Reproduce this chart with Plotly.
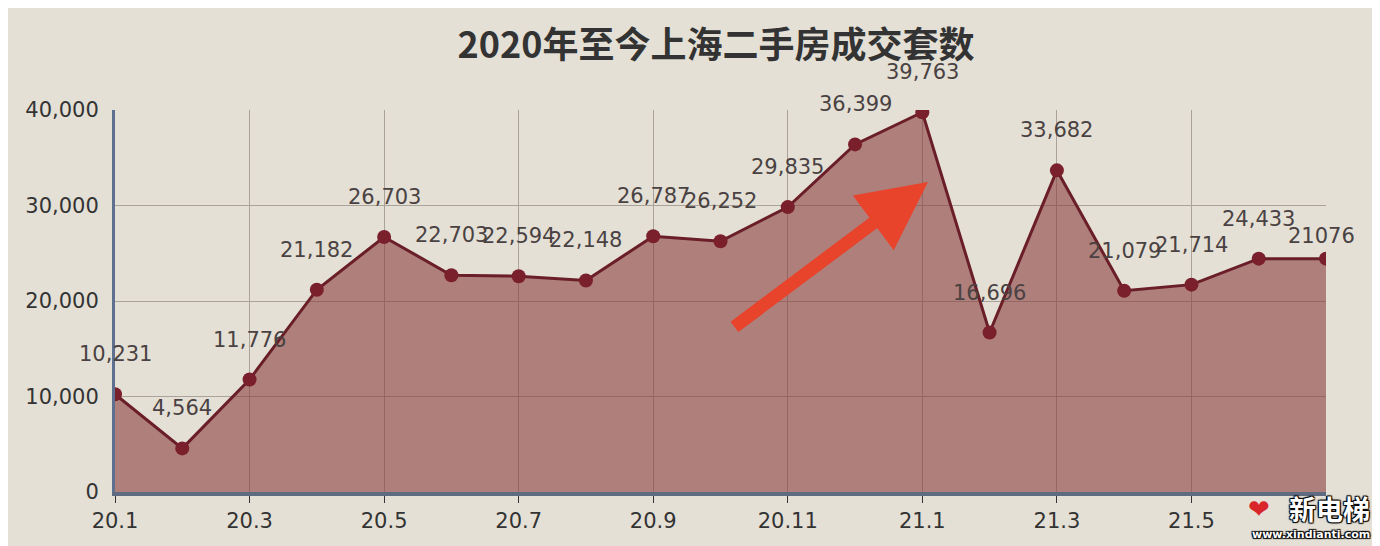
import plotly.graph_objects as go

months = ["20.1", "20.2", "20.3", "20.4", "20.5", "20.6", "20.7", "20.8", "20.9", "20.10",
          "20.11", "20.12", "21.1", "21.2", "21.3", "21.4", "21.5", "21.6", "21.7"]
deals = [10231, 4564, 11776, 21182, 26703, 22703, 22594, 22148, 26787, 26252,
         29835, 36399, 39763, 16696, 33682, 21079, 21714, 24433, 24433]
deal_labels = ["10,231", "4,564", "11,776", "21,182", "26,703", "22,703", "22,594", "22,148",
               "26,787", "26,252", "29,835", "36,399", "39,763", "16,696", "33,682", "21,079",
               "21,714", "24,433", "21076"]
tick_months = ["20.1", "20.3", "20.5", "20.7", "20.9", "20.11", "21.1", "21.3", "21.5", "21.7"]
tick_texts = ["20.1", "20.3", "20.5", "20.7", "20.9", "20.11", "21.1", "21.3", "21.5", ""]
y_ticks = [0, 10000, 20000, 30000, 40000]

BG = "#e4e0d6"
LABEL_FONT = "DejaVu Sans, sans-serif"
OUTLINE = "1px 1px 1px black, -1px -1px 1px black, 1px -1px 1px black, -1px 1px 1px black"

fig = go.Figure()
fig.add_trace(go.Scatter(
    x=months, y=deals,
    mode="lines+markers",
    fill="tozeroy",
    fillcolor="rgba(138, 62, 62, 0.6)",
    line=dict(color="#6a1e28", width=3),
    marker=dict(color="#7a1f2c", size=14),
    hoverinfo="x+y",
    showlegend=False,
))

last = len(deals) - 1
for i, (v, t) in enumerate(zip(deals, deal_labels)):
    fig.add_annotation(x=i, y=v, text=t, showarrow=False, xref="x", yref="y",
                       yshift=40 if i < last else 23, xshift=0 if i < last else -5,
                       font=dict(family=LABEL_FONT, size=21, color="#4a4242"))

# red arrow
fig.add_annotation(x=0.6713, y=0.8115, xref="paper", yref="paper",
                   ax=-195, ay=146, axref="pixel", ayref="pixel",
                   text="", showarrow=True, arrowhead=2, arrowsize=1.05,
                   arrowwidth=13, arrowcolor="#e8432b", standoff=0)

# watermark
fig.add_annotation(x=1.038, y=-0.042, xref="paper", yref="paper", xanchor="right", yanchor="middle",
                   text="<b>新电梯</b>", showarrow=False,
                   font=dict(family="Noto Sans CJK SC", size=27, color="white", shadow=OUTLINE))
fig.add_annotation(x=1.038, y=-0.11, xref="paper", yref="paper", xanchor="right", yanchor="middle",
                   text="<b>www.xindianti.com</b>", showarrow=False,
                   font=dict(family="DejaVu Sans", size=11, color="white", shadow=OUTLINE))
fig.add_annotation(x=0.945, y=-0.045, xref="paper", yref="paper", xanchor="center", yanchor="middle",
                   text="<b><i>❤</i></b>", showarrow=False,
                   font=dict(family="DejaVu Sans", size=26, color="#d8262a"))

fig.update_layout(
    width=1380, height=546,
    paper_bgcolor=BG, plot_bgcolor=BG,
    margin=dict(l=107, r=62, t=102, b=62),
    title=dict(text="<b>2020年至今上海二手房成交套数</b>", x=0.513, xanchor="center",
               y=0.932, yanchor="middle",
               font=dict(family="Noto Sans CJK SC", size=36, color="#333333")),
    xaxis=dict(
        type="category", categoryorder="array", categoryarray=months,
        range=[0, len(months) - 1],
        tickmode="array", tickvals=tick_months, ticktext=tick_texts,
        showgrid=True, gridcolor="#a9a39c", gridwidth=1,
        showline=True, linecolor="#5f6b80", linewidth=4,
        ticks="outside", ticklen=7, tickcolor="#333333", tickwidth=1,
        tickfont=dict(family=LABEL_FONT, size=21, color="#333333"),
        zeroline=False,
    ),
    yaxis=dict(
        range=[0, 40000], tickvals=y_ticks, tickformat=",",
        showgrid=True, gridcolor="#a9a39c", gridwidth=1,
        showline=True, linecolor="#5d7090", linewidth=3,
        ticks="", ticklabelstandoff=9,
        tickfont=dict(family=LABEL_FONT, size=21, color="#333333"),
        zeroline=False,
    ),
)

fig.write_html("out.html")
